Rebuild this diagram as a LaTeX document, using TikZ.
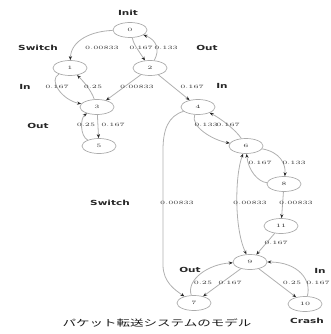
\documentclass[tikz,border=0pt]{standalone}
\usepackage{fontspec}
\usepackage{graphicx}
\usetikzlibrary{shapes.geometric,arrows.meta}
\newfontfamily\jpfont{Noto Sans CJK JP}
\newfontfamily\labfont{DejaVu Sans}
\newcommand{\hstretch}[1]{\scalebox{1.5}[1]{#1}}
\tikzset{
  st/.style={ellipse, draw=gray!65, line width=0.7pt, minimum width=34pt, minimum height=15pt, inner sep=0pt, font=\fontsize{5}{5}\selectfont, text=black!80},
  edge/.style={draw=gray!62, line width=0.8pt, arrows={-Stealth[length=4pt,width=3.2pt,color=black!85]}},
  edgeb/.style={draw=gray!62, line width=0.8pt, arrows={Stealth[length=4pt,width=3.2pt,color=black!85]-Stealth[length=4pt,width=3.2pt,color=black!85]}},
  elab/.style={font=\fontsize{5}{5}\selectfont, text=black!80, inner sep=0pt},
  lab/.style={font=\labfont\bfseries\fontsize{7}{7}\selectfont, text=black!85, inner sep=0pt},
}
\begin{document}
\begin{tikzpicture}[x=1pt,y=-1pt]
\useasboundingbox (0,0) rectangle (330,334);
% states
\node[st] (n0) at (130,30) {\hstretch{0}};
\node[st] (n1) at (70,68) {\hstretch{1}};
\node[st] (n2) at (150,68) {\hstretch{2}};
\node[st] (n3) at (97,107) {\hstretch{3}};
\node[st] (n4) at (198,107) {\hstretch{4}};
\node[st] (n5) at (99,146) {\hstretch{5}};
\node[st] (n6) at (246,146) {\hstretch{6}};
\node[st] (n8) at (284,184) {\hstretch{8}};
\node[st] (n11) at (281,226) {\hstretch{11}};
\node[st] (n9) at (250,262) {\hstretch{9}};
\node[st] (n7) at (194,303) {\hstretch{7}};
\node[st] (n10) at (305,304) {\hstretch{10}};
% outer labels
\node[lab] (tInit) at (128,13) {\hstretch{Init}};
\node[lab] (tSw1) at (38,48) {\hstretch{Switch}};
\node[lab] (tOut1) at (207,48) {\hstretch{Out}};
\node[lab] (tIn1) at (25,87) {\hstretch{In}};
\node[lab] (tIn2) at (222,86) {\hstretch{In}};
\node[lab] (tOut2) at (38,126) {\hstretch{Out}};
\node[lab] (tSw2) at (110,203) {\hstretch{Switch}};
\node[lab] (tOut3) at (190,270) {\hstretch{Out}};
\node[lab] (tIn3) at (320,271) {\hstretch{In}};
\node[lab] (tCrash) at (307,321) {\hstretch{Crash}};
\node[text=black!90] (cap) at (157,323) {\jpfont\fontsize{9}{9}\selectfont\hstretch{パケット転送システムのモデル}};
% edges
\draw[edge] (n0) .. controls (92,31) and (71,40) .. (n1);
\draw[edge] (n0) .. controls (134,44) .. (n2);
\draw[edge] (n2) .. controls (160,50) and (157,40) .. (n0);
\draw[edge] (n1) .. controls (48,80) and (62,100) .. (n3);
\draw[edge] (n3) .. controls (91,90) and (84,82) .. (n1);
\draw[edge] (n2) -- (n3);
\draw[edge] (n2) -- (n4);
\draw[edge] (n3) -- (n5);
\draw[edge] (n5) .. controls (80,136) and (80,118) .. (n3);
\draw[edge] (n4) .. controls (190,126) and (212,140) .. (n6);
\draw[edge] (n6) .. controls (236,130) and (220,118) .. (n4);
\draw[edge] (n4) .. controls (168,116) and (163,130) .. (163,150) -- (163,265) .. controls (163,282) and (175,290) .. (n7);
\draw[edge] (n6) .. controls (280,152) and (286,164) .. (n8);
\draw[edge] (n8) .. controls (258,182) and (248,170) .. (n6);
\draw[edgeb] (n6) .. controls (235,175) and (234,228) .. (n9);
\draw[edge] (n8) -- (n11);
\draw[edge] (n11) -- (n9);
\draw[edge] (n9) -- (n7);
\draw[edge] (n7) .. controls (186,280) and (208,264) .. (n9);
\draw[edge] (n9) -- (n10);
\draw[edge] (n10) .. controls (312,280) and (298,262) .. (n9);
% edge labels
\node[elab] (e01) at (102,48) {\hstretch{0.00833}};
\node[elab] (e02) at (141,48) {\hstretch{0.167}};
\node[elab] (e20) at (166,48) {\hstretch{0.133}};
\node[elab] (e13) at (57,87) {\hstretch{0.167}};
\node[elab] (e31) at (93,87) {\hstretch{0.25}};
\node[elab] (e23) at (137,87) {\hstretch{0.00833}};
\node[elab] (e24) at (192,87) {\hstretch{0.167}};
\node[elab] (e53) at (86,125) {\hstretch{0.25}};
\node[elab] (e35) at (113,125) {\hstretch{0.167}};
\node[elab] (e46) at (206,125) {\hstretch{0.133}};
\node[elab] (e64) at (228,125) {\hstretch{0.167}};
\node[elab] (e86) at (260,163) {\hstretch{0.167}};
\node[elab] (e68) at (294,163) {\hstretch{0.133}};
\node[elab] (e47) at (177,203) {\hstretch{0.00833}};
\node[elab] (e69) at (250,203) {\hstretch{0.00833}};
\node[elab] (e811) at (296,203) {\hstretch{0.00833}};
\node[elab] (e119) at (276,243) {\hstretch{0.167}};
\node[elab] (e79) at (203,283) {\hstretch{0.25}};
\node[elab] (e97) at (230,283) {\hstretch{0.167}};
\node[elab] (e910) at (292,283) {\hstretch{0.25}};
\node[elab] (e109) at (318,283) {\hstretch{0.167}};
\end{tikzpicture}
\end{document}
